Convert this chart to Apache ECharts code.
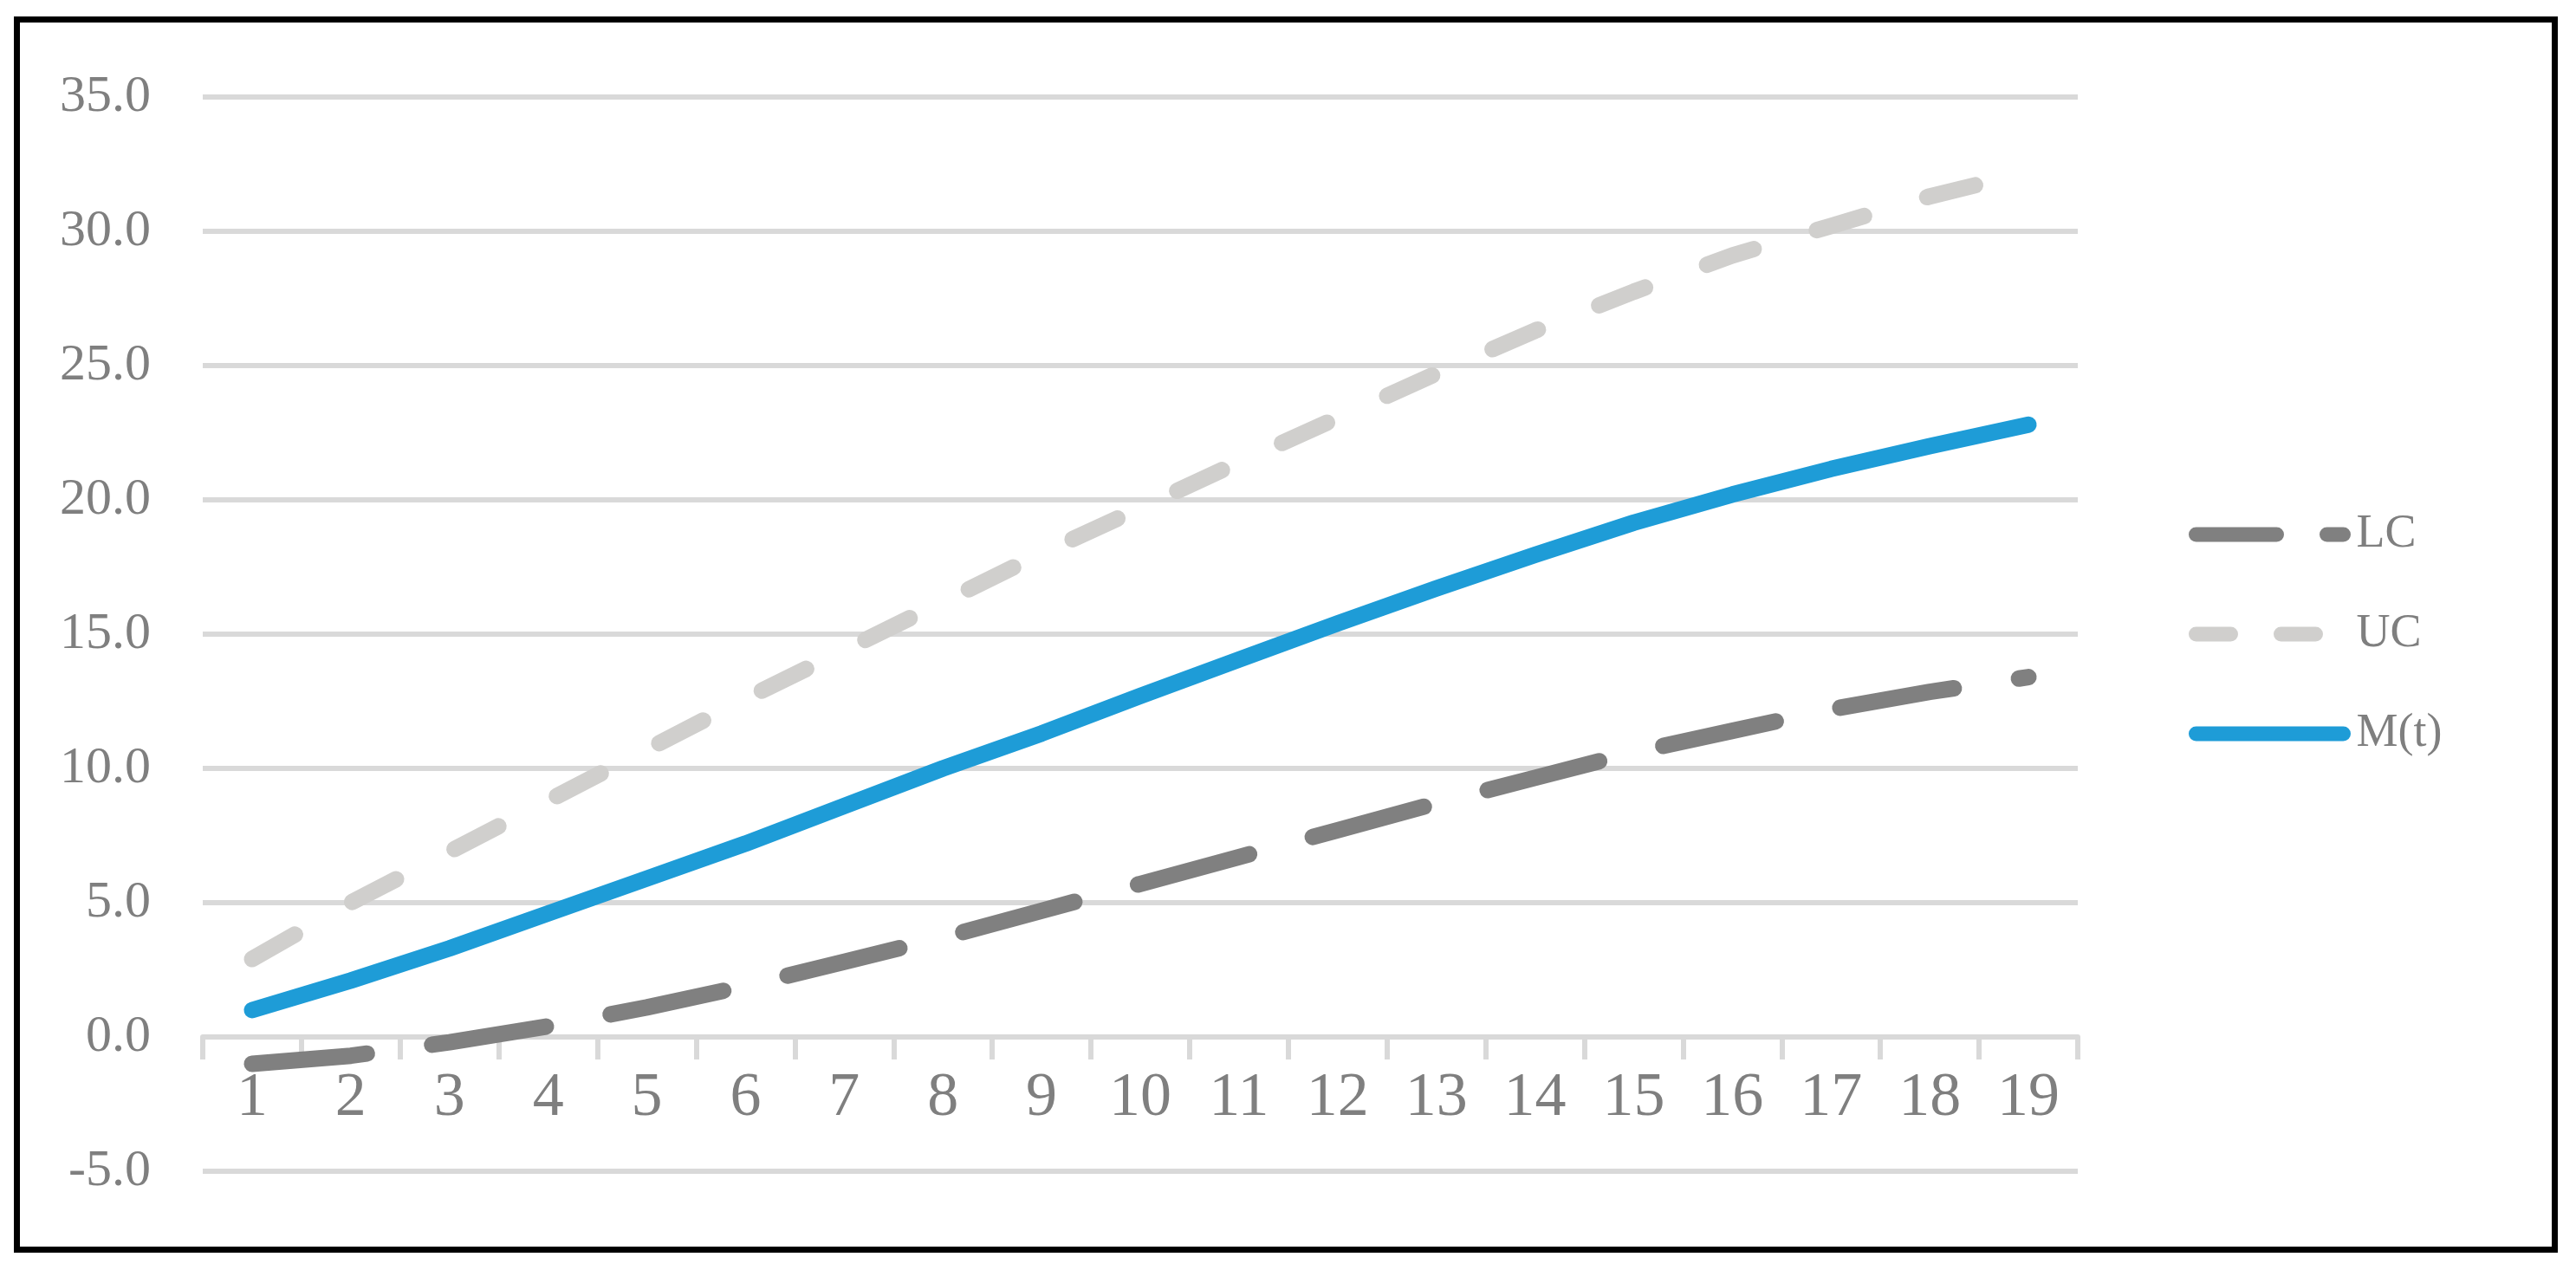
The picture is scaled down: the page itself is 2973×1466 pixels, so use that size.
<!DOCTYPE html>
<html>
<head>
<meta charset="utf-8">
<title>LC / UC / M(t)</title>
<script src="https://cdn.jsdelivr.net/npm/echarts@6/dist/echarts.min.js"></script>
<style>
    html, body { margin: 0; padding: 0; background: #fff; }
    #chart { width: 2973px; height: 1466px; }
</style>
</head>
<body>
<div id="chart"></div>
<script>
    // data
    const categories = ['1', '2', '3', '4', '5', '6', '7', '8', '9', '10',
                        '11', '12', '13', '14', '15', '16', '17', '18', '19'];
    const lcValues = [-1.0, -0.7, -0.2, 0.4, 1.1, 1.9, 2.8, 3.7, 4.7, 5.7,
                      6.7, 7.7, 8.7, 9.65, 10.6, 11.4, 12.2, 12.85, 13.4];
    const ucValues = [2.9, 5.0, 6.9, 8.8, 10.7, 12.6, 14.4, 16.2, 18.0, 19.7,
                      21.4, 23.05, 24.7, 26.3, 27.75, 29.1, 30.2, 31.3, 32.2];
    const mValues = [1.0, 2.1, 3.3, 4.6, 5.9, 7.2, 8.6, 10.0, 11.3, 12.7,
                     14.05, 15.4, 16.7, 17.95, 19.15, 20.2, 21.15, 22.0, 22.8];
    const yMin = -5, yMax = 35, yStep = 5;

    const font = "'Liberation Serif', 'DejaVu Serif', serif";
    const textGray = '#7f7f7f';
    const gridGray = '#d9d9d9';
    const lw = 19;   // series line width
    const lgw = 17;  // legend line width

    let myChart = echarts.init(document.getElementById('chart'));

    let option = {
        backgroundColor: '#fff',
        animation: false,
        graphic: [{
            type: 'rect',
            shape: { x: 19.5, y: 22.5, width: 2929, height: 1420 },
            style: { fill: 'none', stroke: '#000', lineWidth: 7 },
            silent: true
        }],
        grid: {
            left: 234, right: 575, top: 112, bottom: 114,
            containLabel: false,
            outerBoundsMode: 'none'
        },
        legend: {
            orient: 'vertical',
            left: 2526,
            top: 590,
            itemWidth: 170,
            itemHeight: 40,
            itemGap: 61,
            padding: 0,
            itemStyle: { opacity: 0 },
            textStyle: {
                fontFamily: font, fontSize: 54, color: textGray,
                padding: [0, 0, 0, 10]
            },
            data: [
                { name: 'LC', lineStyle: { width: lgw, type: [93, 58], cap: 'round' } },
                { name: 'UC', lineStyle: { width: lgw, type: [40, 58], cap: 'round' } },
                { name: 'M(t)', lineStyle: { width: lgw, cap: 'round' } }
            ]
        },
        xAxis: {
            type: 'category',
            data: categories,
            boundaryGap: true,
            axisLine: { onZero: true, lineStyle: { color: gridGray, width: 6 } },
            axisTick: { show: true, interval: 0, length: 26, lineStyle: { color: gridGray, width: 6 } },
            axisLabel: { interval: 0, margin: -120, fontFamily: font, fontSize: 72, color: textGray },
            splitLine: { show: false }
        },
        yAxis: {
            type: 'value',
            min: yMin,
            max: yMax,
            interval: yStep,
            axisLine: { show: false },
            axisTick: { show: false },
            axisLabel: {
                margin: 60, fontFamily: font, fontSize: 60, color: textGray,
                formatter: function (v) { return v.toFixed(1); }
            },
            splitLine: { lineStyle: { color: gridGray, width: 6 } }
        },
        series: [{
            name: 'LC',
            type: 'line',
            data: lcValues,
            symbol: 'none',
            color: '#808080',
            lineStyle: { width: lw, color: '#808080', type: [lw * 7, lw * 4], cap: 'round', join: 'round' }
        }, {
            name: 'UC',
            type: 'line',
            data: ucValues,
            symbol: 'none',
            color: '#d0cfcd',
            lineStyle: { width: lw, color: '#d0cfcd', type: [lw * 3, lw * 4], cap: 'round', join: 'round' }
        }, {
            name: 'M(t)',
            type: 'line',
            data: mValues,
            symbol: 'none',
            color: '#1e9cd7',
            lineStyle: { width: lw, color: '#1e9cd7', cap: 'round', join: 'round' }
        }]
    };

    option && myChart.setOption(option);
</script>
</body>
</html>
